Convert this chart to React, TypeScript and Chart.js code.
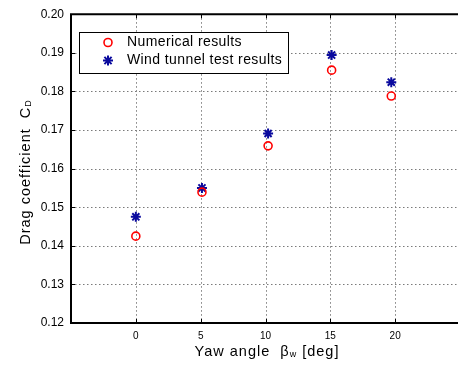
import React, { useEffect, useRef } from "react";
import { Chart, registerables } from "chart.js";

Chart.register(...registerables);

const yawAngles = [0, 5.1, 10.2, 15.1, 19.7];
const numericalResults = [0.1425, 0.1539, 0.1659, 0.1855, 0.1788];
const windTunnelResults = [0.1475, 0.155, 0.1691, 0.1894, 0.1824];
const xTickValues = [0, 5, 10, 15, 20];
const seriesLabels = ["Numerical results", "Wind tunnel test results"];

const FONT = "Arial, 'Liberation Sans', Helvetica, sans-serif";
const RED = "#ff0000";
const BLUE = "#0a0a9e";

function drawStar(ctx: CanvasRenderingContext2D, x: number, y: number, r: number) {
  ctx.beginPath();
  ctx.moveTo(x - r, y); ctx.lineTo(x + r, y);
  ctx.moveTo(x, y - r); ctx.lineTo(x, y + r);
  const d = r * 0.72;
  ctx.moveTo(x - d, y - d); ctx.lineTo(x + d, y + d);
  ctx.moveTo(x - d, y + d); ctx.lineTo(x + d, y - d);
  ctx.stroke();
}

const framePlugin = {
  id: "frame",
  beforeDatasetsDraw(chart: any) {
    const { ctx, chartArea, scales } = chart;
    const xs = scales.x, ys = scales.y;
    ctx.save();
    ctx.strokeStyle = "#7a7a7a";
    ctx.lineWidth = 1;
    ctx.setLineDash([1.5, 2.5]);
    xTickValues.forEach((v) => {
      const px = Math.round(xs.getPixelForValue(v)) + 0.5;
      ctx.beginPath();
      ctx.moveTo(px, chartArea.top);
      ctx.lineTo(px, chartArea.bottom);
      ctx.stroke();
    });
    ys.ticks.forEach((t: any) => {
      const py = Math.round(ys.getPixelForValue(t.value)) + 0.5;
      ctx.beginPath();
      ctx.moveTo(chartArea.left, py);
      ctx.lineTo(chartArea.right, py);
      ctx.stroke();
    });
    ctx.restore();
  },
  afterDraw(chart: any) {
    const { ctx, chartArea, scales } = chart;
    const xs = scales.x, ys = scales.y;
    ctx.save();
    ctx.strokeStyle = "#000";
    ctx.lineWidth = 2;
    ctx.beginPath();
    ctx.moveTo(chartArea.right, chartArea.top);
    ctx.lineTo(chartArea.left, chartArea.top);
    ctx.lineTo(chartArea.left, chartArea.bottom);
    ctx.lineTo(chartArea.right, chartArea.bottom);
    ctx.lineTo(chartArea.right, chartArea.top);
    ctx.stroke();
    ctx.lineWidth = 1;
    xTickValues.forEach((v) => {
      const px = Math.round(xs.getPixelForValue(v)) + 0.5;
      ctx.beginPath();
      ctx.moveTo(px, chartArea.bottom);
      ctx.lineTo(px, chartArea.bottom - 4);
      ctx.moveTo(px, chartArea.top);
      ctx.lineTo(px, chartArea.top + 4);
      ctx.stroke();
    });
    ys.ticks.forEach((t: any) => {
      const py = Math.round(ys.getPixelForValue(t.value)) + 0.5;
      ctx.beginPath();
      ctx.moveTo(chartArea.left, py);
      ctx.lineTo(chartArea.left + 4, py);
      ctx.stroke();
    });

    // legend
    const lx = 79, ly = 32, lw = 209, lh = 41;
    ctx.fillStyle = "#fff";
    ctx.fillRect(lx, ly, lw, lh);
    ctx.strokeStyle = "#000";
    ctx.lineWidth = 1;
    ctx.strokeRect(lx + 0.5, ly + 0.5, lw, lh);
    const rows = [42.5, 60.5];
    ctx.font = `14px ${FONT}`;
    (ctx as any).letterSpacing = "0.4px";
    ctx.textBaseline = "middle";
    ctx.textAlign = "left";
    ctx.fillStyle = "#000";
    ctx.fillText(seriesLabels[0], 127, rows[0]);
    ctx.fillText(seriesLabels[1], 127, rows[1]);
    (ctx as any).letterSpacing = "0px";
    ctx.strokeStyle = RED;
    ctx.lineWidth = 1.6;
    ctx.beginPath();
    ctx.arc(108, rows[0], 4, 0, Math.PI * 2);
    ctx.stroke();
    ctx.strokeStyle = BLUE;
    ctx.lineWidth = 2;
    drawStar(ctx, 108, rows[1], 5);

    // x title with subscript
    ctx.fillStyle = "#000";
    ctx.textBaseline = "alphabetic";
    const mainF = `14.5px ${FONT}`;
    const subF = `9px ${FONT}`;
    (ctx as any).letterSpacing = "1px";
    const parts: [string, string, number][] = [
      ["Yaw angle  \u03b2", mainF, 0],
      ["w", subF, 1],
      [" [deg]", mainF, 0],
    ];
    let total = 0;
    parts.forEach(([t, f]) => { ctx.font = f; total += ctx.measureText(t).width; });
    let cx = 267 - total / 2;
    const base = 356;
    parts.forEach(([t, f, s]) => {
      ctx.font = f;
      ctx.fillText(t, cx, base + s);
      cx += ctx.measureText(t).width;
    });

    // y title rotated with subscript
    ctx.save();
    ctx.translate(30, 172);
    ctx.rotate(-Math.PI / 2);
    const yparts: [string, string, number][] = [
      ["Drag coefficient  C", mainF, 0],
      ["D", subF, 1],
    ];
    let ytotal = 0;
    yparts.forEach(([t, f]) => { ctx.font = f; ytotal += ctx.measureText(t).width; });
    let yx = -ytotal / 2;
    yparts.forEach(([t, f, s]) => {
      ctx.font = f;
      ctx.fillText(t, yx, s);
      yx += ctx.measureText(t).width;
    });
    ctx.restore();
    (ctx as any).letterSpacing = "0px";
    ctx.restore();
  },
};

export default function App() {
  const ref = useRef<HTMLCanvasElement | null>(null);
  useEffect(() => {
    if (!ref.current) return;
    const chart = new Chart(ref.current, {
      type: "scatter",
      data: {
        datasets: [
          {
            label: seriesLabels[0],
            data: yawAngles.map((x, i) => ({ x, y: numericalResults[i] })),
            pointStyle: "circle",
            pointRadius: 4,
            pointBorderWidth: 1.6,
            borderColor: RED,
            backgroundColor: "rgba(0,0,0,0)",
            pointBackgroundColor: "rgba(0,0,0,0)",
            pointBorderColor: RED,
          },
          {
            label: seriesLabels[1],
            data: yawAngles.map((x, i) => ({ x, y: windTunnelResults[i] })),
            pointStyle: "star",
            pointRadius: 5,
            pointBorderWidth: 2,
            borderColor: BLUE,
            backgroundColor: BLUE,
            pointBorderColor: BLUE,
          },
        ],
      },
      options: {
        animation: false,
        responsive: false,
        devicePixelRatio: 1,
        layout: { padding: { top: 14, left: 0, right: 0, bottom: 0 } },
        plugins: { legend: { display: false }, tooltip: { enabled: false } },
        scales: {
          x: {
            type: "linear",
            min: -5,
            max: 25,
            afterBuildTicks: (s: any) => {
              s.ticks = xTickValues.map((v) => ({ value: v }));
            },
            afterFit: (s: any) => {
              s.height = 42;
            },
            grid: { display: false, drawTicks: false },
            border: { display: false },
            ticks: {
              font: { family: FONT, size: 10 },
              color: "#000",
              padding: 7,
              maxRotation: 0,
              callback: (v: any) => String(v),
            },
          },
          y: {
            type: "linear",
            min: 0.12,
            max: 0.2,
            afterFit: (s: any) => {
              s.width = 71;
            },
            grid: { display: false, drawTicks: false },
            border: { display: false },
            ticks: {
              stepSize: 0.01,
              font: { family: FONT, size: 12 },
              color: "#000",
              padding: 7,
              callback: (v: any) => Number(v).toFixed(2),
            },
          },
        },
      },
      plugins: [framePlugin],
    } as any);
    return () => chart.destroy();
  }, []);
  return (
    <div style={{ position: "absolute", left: 0, top: 0, width: 458, height: 365, overflow: "hidden", background: "#fff" }}>
      <canvas ref={ref} width={467} height={365} />
    </div>
  );
}
